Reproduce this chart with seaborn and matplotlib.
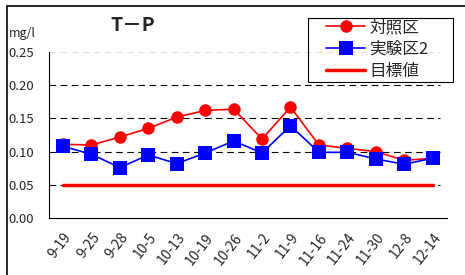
import numpy as np
import pandas as pd
import matplotlib
matplotlib.use("Agg")
import matplotlib.pyplot as plt
from matplotlib.lines import Line2D
from matplotlib.patches import Rectangle
import seaborn as sns

# -------------------------
# Data
# -------------------------
dates = ["9-19", "9-25", "9-28", "10-5", "10-13", "10-19", "10-26",
         "11-2", "11-9", "11-16", "11-24", "11-30", "12-8", "12-14"]
control = [0.111, 0.110, 0.122, 0.135, 0.152, 0.162, 0.164,
           0.119, 0.167, 0.110, 0.105, 0.100, 0.087, 0.090]
exp2 = [0.108, 0.096, 0.076, 0.095, 0.082, 0.098, 0.116,
        0.098, 0.139, 0.099, 0.099, 0.089, 0.081, 0.090]
target = [0.05] * len(dates)
yticks = [0.00, 0.05, 0.10, 0.15, 0.20, 0.25]

# -------------------------
# Plot
# -------------------------
sns.set_style("white")
plt.rcParams["font.family"] = ["Noto Sans CJK JP", "DejaVu Sans"]

df = pd.DataFrame({"x": np.arange(len(dates)), "control": control,
                   "exp2": exp2, "target": target})

W, H = 465, 275
fig = plt.figure(figsize=(W / 100, H / 100), dpi=100)
ax = fig.add_axes([0.105, 0.207, 0.856, 0.604])

# dashed grid (stops a bit short of the right end)
n = len(dates)
ax.hlines(yticks[1:-1], -0.5, n - 0.75, color="black", lw=0.8,
          linestyles=[(0, (6, 4))], zorder=0)
ax.hlines(yticks[-1], -0.5, n - 0.75, color="#dddddd", lw=0.8,
          linestyles=[(0, (6, 4))], zorder=0)

sns.lineplot(data=df, x="x", y="control", ax=ax, color="red", lw=1.2,
             marker="o", markersize=9, markeredgewidth=0, label="対照区")
sns.lineplot(data=df, x="x", y="exp2", ax=ax, color="blue", lw=1.2,
             marker="s", markersize=9.5, markeredgewidth=0, label="実験区2")
sns.lineplot(data=df, x="x", y="target", ax=ax, color="red", lw=2.5,
             label="目標値")

ax.set_xlim(-0.5, n - 0.5)
ax.set_ylim(0, 0.25)
ax.set_yticks(yticks)
ax.set_yticklabels([f"{v:.2f}" for v in yticks], fontsize=9.5)
ax.set_xticks(np.arange(n + 1) - 0.5)
ax.set_xticklabels([])
ax.set_xticks(np.arange(n), minor=True)
ax.set_xticklabels(dates, minor=True, fontsize=10, rotation=52,
                   ha="right", va="top", rotation_mode="anchor")
ax.tick_params(axis="x", which="major", direction="in", length=4, width=0.8)
ax.tick_params(axis="x", which="minor", length=0, pad=9)
ax.tick_params(axis="y", direction="in", length=4, width=0.8, pad=29)
for lab in ax.get_yticklabels():
    lab.set_horizontalalignment("left")
ax.set_xlabel("")
ax.set_ylabel("")
for s in ["top", "right"]:
    ax.spines[s].set_visible(False)
for s in ["left", "bottom"]:
    ax.spines[s].set_color("black")
    ax.spines[s].set_linewidth(0.8)

# legend contents without frame; the box is drawn separately to match its padding
ax.legend(loc="upper left", bbox_to_anchor=(326 / W, 1 - 19 / H),
          bbox_transform=fig.transFigure, fontsize=12, frameon=False,
          borderpad=0, labelspacing=0.3, handlelength=2.35,
          handletextpad=0.25, borderaxespad=0)
fig.add_artist(Rectangle((308 / W, 1 - 82 / H), 145 / W, 64 / H,
                         transform=fig.transFigure, fill=False,
                         edgecolor="black", lw=0.8))

fig.text(133 / W, 1 - 26 / H, "T－P", fontsize=14, fontweight="bold",
         ha="center", va="center")
fig.text(9 / W, 1 - 33 / H, "mg/l", fontsize=9, ha="left", va="center")

# outer frame (left and top edges)
fig.add_artist(Line2D([7 / W, 7 / W], [0, 1 - 6 / H], color="black", lw=1.2))
fig.add_artist(Line2D([7 / W, 1], [1 - 6 / H, 1 - 6 / H], color="black", lw=1.2))

fig.savefig("out.png", dpi=100)
plt.close(fig)
